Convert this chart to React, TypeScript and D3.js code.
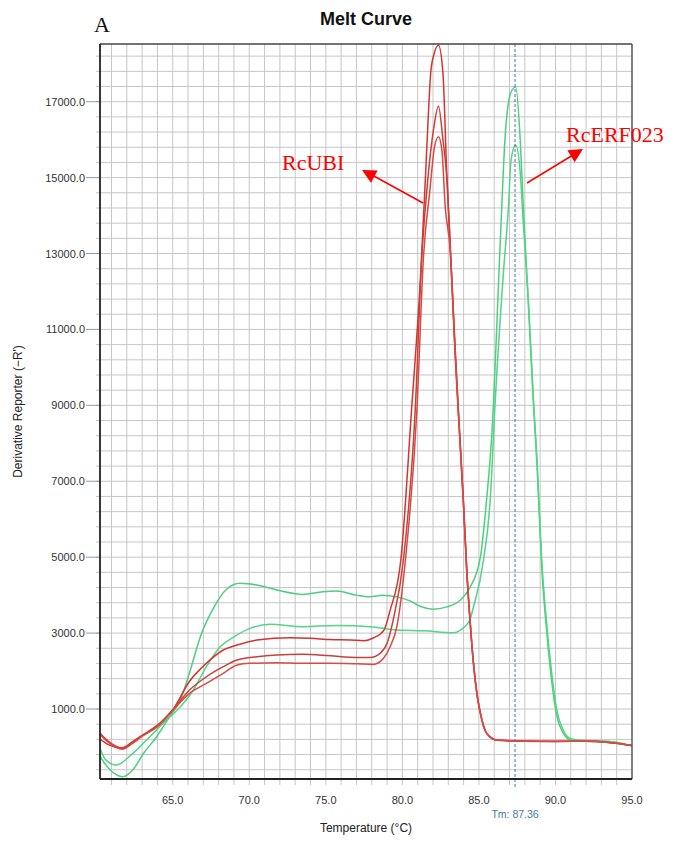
import React from 'react';
import * as d3 from 'd3';

const W = 686;
const H = 841;

const xDomain = [60.25, 95];
const yDomain = [-844, 18520];
const xTickLabels = [65, 70, 75, 80, 85, 90, 95];
const yTickLabels = [1000, 3000, 5000, 7000, 9000, 11000, 13000, 15000, 17000];
const tmValue = 87.36;

// RcUBI replicate 1 (highest peak)
const ubi1Temp = [60.25, 60.8, 61.7, 62.4, 62.9, 64.2, 65.0, 66.1, 67.2, 68.3, 69.2, 70.5, 72.7, 74.0, 75.3, 76.6, 77.5, 78.1, 78.8, 79.2, 79.9, 80.6, 81.2, 81.5, 81.65, 81.85, 82.05, 82.36, 82.65, 82.9, 83.12, 83.45, 83.67, 84.0, 84.2, 84.43, 84.65, 84.87, 85.2, 85.5, 86.2, 88.0, 90.0, 92.0, 93.5, 95.0];
const ubi1Val = [210, 60, -35, 130, 270, 625, 975, 1730, 2204, 2554, 2686, 2818, 2878, 2862, 2830, 2818, 2800, 2870, 3080, 3600, 4925, 8876, 12484, 14934, 16250, 17750, 18226, 18490, 17750, 15120, 13300, 10500, 8800, 6400, 4750, 3300, 2200, 1420, 710, 370, 183, 160, 150, 150, 120, 40];

// RcUBI replicate 2
const ubi2Temp = [60.25, 60.8, 61.7, 62.4, 62.9, 64.2, 65.0, 66.1, 67.2, 68.3, 69.2, 70.5, 71.8, 73.5, 75.3, 77.0, 77.9, 78.55, 79.0, 79.4, 80.07, 80.84, 81.27, 81.6, 82.03, 82.36, 82.65, 82.9, 83.12, 83.45, 83.67, 84.0, 84.2, 84.43, 84.65, 84.87, 85.2, 85.5, 86.2, 88.0, 90.0, 92.0, 93.5, 95.0];
const ubi2Val = [360, 150, -20, 150, 280, 640, 980, 1500, 1850, 2115, 2290, 2378, 2422, 2440, 2400, 2360, 2360, 2467, 2730, 3344, 4925, 8876, 12910, 14670, 16250, 16883, 16000, 15000, 13200, 10400, 8750, 6350, 4700, 3280, 2180, 1400, 700, 360, 175, 150, 145, 150, 120, 40];

// RcUBI replicate 3
const ubi3Temp = [60.25, 60.8, 61.7, 62.4, 62.9, 64.2, 65.0, 66.1, 67.2, 68.3, 69.2, 70.05, 71.8, 73.5, 75.3, 77.0, 78.1, 78.77, 79.2, 79.64, 80.2, 80.95, 81.38, 81.8, 82.1, 82.36, 82.58, 82.8, 83.12, 83.45, 83.67, 84.0, 84.2, 84.43, 84.65, 84.87, 85.2, 85.5, 86.2, 88.0, 90.0, 92.0, 93.5, 95.0];
const ubi3Val = [330, 120, -60, 100, 250, 600, 960, 1414, 1677, 1940, 2160, 2204, 2220, 2204, 2204, 2190, 2175, 2335, 2640, 3168, 4925, 8876, 12910, 14670, 15810, 16075, 15730, 14230, 13100, 10300, 8700, 6300, 4650, 3250, 2160, 1390, 700, 360, 175, 150, 145, 150, 120, 40];

// RcERF023 replicate 1 (higher peak, upper plateau)
const erf1Temp = [60.25, 60.9, 61.75, 62.4, 63.1, 63.95, 64.8, 65.5, 66.13, 66.8, 67.65, 68.5, 69.4, 70.5, 71.8, 73.5, 74.8, 75.7, 77.0, 77.9, 78.7, 79.6, 80.5, 81.2, 82.0, 82.9, 83.8, 84.4, 85.1, 85.5, 85.85, 86.4, 86.7, 87.07, 87.4, 87.7, 87.9, 88.24, 88.57, 88.8, 89.1, 89.44, 89.77, 90.1, 90.5, 91.0, 92.0, 93.0, 94.0, 95.0];
const erf1Val = [-250, -600, -783, -600, -167, 270, 797, 1237, 2000, 2900, 3650, 4150, 4310, 4265, 4135, 4020, 4090, 4110, 4000, 3960, 4000, 3960, 3850, 3700, 3630, 3690, 3870, 4190, 5010, 6505, 8270, 13350, 15990, 17220, 17390, 15990, 14230, 11600, 8960, 7380, 4750, 2990, 1680, 800, 370, 183, 160, 160, 120, 30];

// RcERF023 replicate 2
const erf2Temp = [60.25, 60.6, 61.3, 62.4, 63.5, 64.6, 65.5, 66.35, 67.2, 68.1, 69.0, 70.05, 71.36, 73.5, 75.7, 77.9, 79.64, 81.4, 83.34, 83.8, 84.4, 84.65, 85.3, 85.74, 86.07, 86.6, 86.93, 87.1, 87.4, 87.7, 87.9, 88.24, 88.57, 88.8, 89.1, 89.44, 89.77, 90.1, 90.5, 91.0, 92.0, 93.0, 94.0, 95.0];
const erf2Val = [-35, -330, -475, -167, 270, 710, 1060, 1500, 2115, 2640, 2900, 3125, 3230, 3168, 3200, 3168, 3080, 3060, 3010, 3080, 3344, 3695, 4925, 6505, 9140, 12490, 14230, 15460, 15856, 15120, 13800, 11700, 9100, 7550, 4950, 3200, 1900, 950, 450, 220, 170, 160, 120, 30];

const ubiColors = ['#d2342f', '#c8403a', '#d94a44'];
const erfColors = ['#4ccf7e', '#55d386'];

export default function App() {
  const left = 100, right = 632, top = 44, bottom = 779;
  const x = d3.scaleLinear().domain(xDomain).range([left, right]);
  const y = d3.scaleLinear().domain(yDomain).range([bottom, top]);
  const xGrid = d3.range(61, 95, 1);
  const yGrid = d3.range(-600, yDomain[1], 400);

  const line = d3
    .line<[number, number]>()
    .x((d) => x(d[0]))
    .y((d) => y(d[1]))
    .curve(d3.curveMonotoneX);

  const mk = (t: number[], v: number[]) => t.map((tt, i) => [tt, v[i]] as [number, number]);
  const ubi = [mk(ubi1Temp, ubi1Val), mk(ubi2Temp, ubi2Val), mk(ubi3Temp, ubi3Val)];
  const erf = [mk(erf1Temp, erf1Val), mk(erf2Temp, erf2Val)];

  const font = 'Arial, "Liberation Sans", sans-serif';
  const serif = '"Times New Roman", "Liberation Serif", serif';

  const arrowHead = (x1: number, y1: number, x2: number, y2: number, size: number) => {
    const a = Math.atan2(y2 - y1, x2 - x1);
    const p1 = [x2 - size * Math.cos(a) + (size * 0.5) * Math.sin(a), y2 - size * Math.sin(a) - (size * 0.5) * Math.cos(a)];
    const p2 = [x2 - size * Math.cos(a) - (size * 0.5) * Math.sin(a), y2 - size * Math.sin(a) + (size * 0.5) * Math.cos(a)];
    return `${x2},${y2} ${p1[0]},${p1[1]} ${p2[0]},${p2[1]}`;
  };

  return (
    <svg width={W} height={H} style={{ position: 'absolute', left: 0, top: 0, background: '#fff' }}>
      <defs>
        <clipPath id="plotClip">
          <rect x={left} y={top} width={right - left} height={bottom - top} />
        </clipPath>
      </defs>
      <rect x={0} y={0} width={W} height={H} fill="#fff" />
      {/* grid */}
      {xGrid.map((g) => (
        <line key={'vx' + g} x1={x(g)} x2={x(g)} y1={top} y2={bottom + 6} stroke="#c6c6c6" strokeWidth={1} />
      ))}
      {yGrid.map((g) => (
        <line key={'hy' + g} x1={left - 4} x2={right} y1={y(g)} y2={y(g)} stroke="#c6c6c6" strokeWidth={1} />
      ))}
      {yTickLabels.map((v) => (
        <g key={'yl' + v}>
          <line x1={left - 14} x2={left} y1={y(v)} y2={y(v)} stroke="#999" strokeWidth={1} />
          <text x={left - 15} y={y(v) + 4} fontSize={11} fontFamily={font} textAnchor="end" fill="#333">
            {v.toFixed(1)}
          </text>
        </g>
      ))}
      {xTickLabels.map((v) => (
        <text key={'xl' + v} x={x(v)} y={804} fontSize={11} fontFamily={font} textAnchor="middle" fill="#333">
          {v.toFixed(1)}
        </text>
      ))}
      {/* curves */}
      <g clipPath="url(#plotClip)">
        {erf.map((d, i) => (
          <path key={'e' + i} d={line(d) || ''} fill="none" stroke={erfColors[i]} strokeWidth={1.5} />
        ))}
        {ubi.map((d, i) => (
          <path key={'u' + i} d={line(d) || ''} fill="none" stroke={ubiColors[i]} strokeWidth={1.5} />
        ))}
      </g>
      {/* Tm line */}
      <line x1={x(tmValue)} x2={x(tmValue)} y1={top} y2={bottom + 8} stroke="#3f7aa8" strokeWidth={1} strokeDasharray="3,2" />
      <text x={x(tmValue)} y={818} fontSize={10.5} fontFamily={font} textAnchor="middle" fill="#3f7aa8">
        Tm: {tmValue}
      </text>
      {/* frame */}
      <line x1={left} x2={right} y1={top} y2={top} stroke="#444" strokeWidth={1.5} />
      <line x1={right} x2={right} y1={top} y2={bottom} stroke="#555" strokeWidth={1.5} />
      <line x1={left} x2={left} y1={top} y2={bottom} stroke="#222" strokeWidth={1.8} />
      <line x1={left} x2={right} y1={bottom} y2={bottom} stroke="#222" strokeWidth={1.8} />
      {/* titles */}
      <text x={(left + right) / 2} y={25} fontSize={18} fontWeight="bold" fontFamily={font} textAnchor="middle" fill="#111">
        Melt Curve
      </text>
      <text x={94} y={32} fontSize={22} fontFamily={serif} fill="#111">
        A
      </text>
      <text x={(left + right) / 2} y={832} fontSize={12} fontFamily={font} textAnchor="middle" fill="#222">
        Temperature (°C)
      </text>
      <text
        transform={`translate(22, ${(top + bottom) / 2}) rotate(-90)`}
        fontSize={12}
        fontFamily={font}
        textAnchor="middle"
        fill="#222"
      >
        Derivative Reporter (−R')
      </text>
      {/* annotations */}
      <text x={282} y={170} fontSize={22} fontFamily={serif} fill="#ff0000">
        RcUBI
      </text>
      <line x1={423} x2={372} y1={203} y2={175} stroke="#ff0000" strokeWidth={1.5} />
      <polygon points={arrowHead(423, 203, 362, 170, 14)} fill="#ff0000" />
      <text x={566} y={142} fontSize={22} fontFamily={serif} fill="#ff0000">
        RcERF023
      </text>
      <line x1={527} x2={573} y1={183} y2={155} stroke="#ff0000" strokeWidth={1.5} />
      <polygon points={arrowHead(527, 183, 583, 149, 14)} fill="#ff0000" />
    </svg>
  );
}
